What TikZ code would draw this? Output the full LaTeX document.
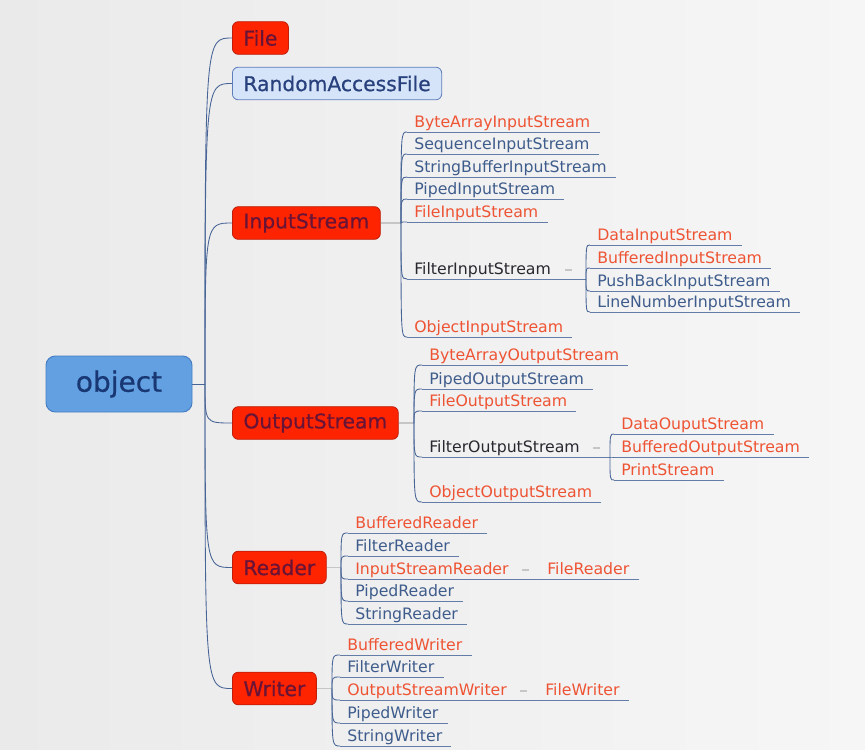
\documentclass[tikz,border=0pt]{standalone}
\usepackage{fontspec}
\setmainfont{DejaVu Sans}
\newfontfamily\topfont[FakeBold=0.6]{DejaVu Sans}
\usetikzlibrary{calc}
\definecolor{bgL}{RGB}{234,234,234}
\definecolor{bgR}{RGB}{246,246,246}
\definecolor{topred}{RGB}{255,36,0}
\definecolor{topredline}{RGB}{190,30,10}
\definecolor{toptext}{RGB}{105,20,55}
\definecolor{objblue}{RGB}{98,160,226}
\definecolor{objline}{RGB}{70,125,195}
\definecolor{objtext}{RGB}{25,55,115}
\definecolor{rafblue}{RGB}{214,228,250}
\definecolor{rafline}{RGB}{95,125,185}
\definecolor{raftext}{RGB}{40,65,125}
\definecolor{orangetx}{RGB}{238,84,52}
\definecolor{bluetx}{RGB}{62,92,140}
\definecolor{darktx}{RGB}{40,40,48}
\definecolor{ulcol}{RGB}{100,125,168}
\definecolor{conncol}{RGB}{70,100,150}
\newcommand\leaf[5]{%
  \node[leaf,text=#4] (#1) at (#2,#3-5) {#5};
  \coordinate (#1u) at ($(#1.base west)+(-7,5)$);
}
\newcommand\uleaf[1]{\draw[uline] (#1u) -- ($(#1.base east)+(9,5)$);}
\begin{document}
\begin{tikzpicture}[x=0.75pt,y=-0.75pt,
  lvl/.style={draw=topredline,fill=topred,rounded corners=4.5pt,anchor=west,
    font=\topfont\fontsize{15.2}{17}\selectfont,text=toptext,inner xsep=8.3pt,inner ysep=0pt,
    minimum height=24.5pt,line width=0.6pt},
  rafbox/.style={lvl,fill=rafblue,draw=rafline,text=raftext},
  objbox/.style={draw=objline,fill=objblue,rounded corners=7pt,minimum width=109.5pt,
    minimum height=42pt,font=\topfont\fontsize{21}{24}\selectfont,text=objtext,line width=0.7pt},
  leaf/.style={anchor=base west,inner sep=0pt,font=\fontsize{11.8}{14}\selectfont},
  uline/.style={draw=ulcol,line width=0.65pt},
  conn/.style={draw=conncol,line width=0.65pt},
  stub/.style={draw=gray!45,line width=0.9pt}]
\useasboundingbox (0,0) rectangle (865,750);
\shade[left color=bgL,right color=bgR] (0,0) rectangle (865,750);

% root and level 1
\node[objbox] (obj) at (119,384) {object};
\node[lvl] (file) at (232,38) {File};
\node[rafbox] (raf) at (232,83.5) {RandomAccessFile};
\node[lvl] (is) at (232,223) {InputStream};
\node[lvl] (os) at (232,423) {OutputStream};
\node[lvl] (rd) at (232,567.5) {Reader};
\node[lvl] (wr) at (232,688.5) {Writer};
\coordinate (objJ) at (205,384);
\draw[conn] (obj.east) -- (objJ);
\foreach \c in {file,raf,is,os,rd,wr}
  \draw[conn] (objJ) .. controls (objJ |- \c.west) .. (\c.west);

% InputStream
\coordinate (isJ) at (401,223);
\draw[stub] (is.east) -- (isJ);
\leaf{isa}{414}{132}{orangetx}{ByteArrayInputStream}
\leaf{isb}{414}{154}{bluetx}{SequenceInputStream}
\leaf{isc}{414}{177}{bluetx}{StringBufferInputStream}
\leaf{isd}{414}{199}{bluetx}{PipedInputStream}
\leaf{ise}{414}{222}{orangetx}{FileInputStream}
\leaf{isf}{414}{279}{darktx}{FilterInputStream}
\leaf{isg}{414}{337}{orangetx}{ObjectInputStream}
\foreach \c in {isa,isb,isc,isd,ise,isg} {\uleaf{\c}}
\foreach \c in {isa,isb,isc,isd,ise,isf,isg}
  \draw[conn] (isJ) .. controls (isJ |- \c u) .. (\c u);
\coordinate (fiJ) at (586,279);
\draw[uline] (isfu) -- (fiJ);
\draw[stub] ($(isf.base east)+(14,-4)$) -- +(7,0);
\leaf{fia}{597}{245}{orangetx}{DataInputStream}
\leaf{fib}{597}{268}{orangetx}{BufferedInputStream}
\leaf{fic}{597}{291}{bluetx}{PushBackInputStream}
\leaf{fid}{597}{312}{bluetx}{LineNumberInputStream}
\foreach \c in {fia,fib,fic,fid} {\uleaf{\c}
  \draw[conn] (fiJ) .. controls (fiJ |- \c u) .. (\c u);}

% OutputStream
\coordinate (osJ) at (414,423);
\draw[stub] (os.east) -- (osJ);
\leaf{osa}{429}{365}{orangetx}{ByteArrayOutputStream}
\leaf{osb}{429}{389}{bluetx}{PipedOutputStream}
\leaf{osc}{429}{411}{orangetx}{FileOutputStream}
\leaf{osd}{429}{457}{darktx}{FilterOutputStream}
\leaf{ose}{429}{502}{orangetx}{ObjectOutputStream}
\foreach \c in {osa,osb,osc,ose} {\uleaf{\c}}
\foreach \c in {osa,osb,osc,osd,ose}
  \draw[conn] (osJ) .. controls (osJ |- \c u) .. (\c u);
\coordinate (foJ) at (610,457);
\draw[uline] (osdu) -- (foJ);
\draw[stub] ($(osd.base east)+(13,-4)$) -- +(7,0);
\leaf{foa}{621}{434}{orangetx}{DataOuputStream}
\leaf{fob}{621}{457}{orangetx}{BufferedOutputStream}
\leaf{foc}{621}{480}{orangetx}{PrintStream}
\foreach \c in {foa,fob,foc} {\uleaf{\c}
  \draw[conn] (foJ) .. controls (foJ |- \c u) .. (\c u);}

% Reader
\coordinate (rdJ) at (341,567.5);
\draw[stub] (rd.east) -- (rdJ);
\leaf{rda}{355}{533}{orangetx}{BufferedReader}
\leaf{rdb}{355}{556}{bluetx}{FilterReader}
\leaf{rdc}{355}{579}{orangetx}{InputStreamReader}
\leaf{rdd}{355}{601}{bluetx}{PipedReader}
\leaf{rde}{355}{624}{bluetx}{StringReader}
\foreach \c in {rda,rdb,rdd,rde} {\uleaf{\c}}
\foreach \c in {rda,rdb,rdc,rdd,rde}
  \draw[conn] (rdJ) .. controls (rdJ |- \c u) .. (\c u);
\leaf{frd}{547}{579}{orangetx}{FileReader}
\draw[uline] (rdcu) -- (frdu);
\uleaf{frd}
\draw[stub] ($(rdc.base east)+(13,-4)$) -- +(7,0);

% Writer
\coordinate (wrJ) at (332,688.5);
\draw[stub] (wr.east) -- (wrJ);
\leaf{wra}{347}{655}{orangetx}{BufferedWriter}
\leaf{wrb}{347}{677}{bluetx}{FilterWriter}
\leaf{wrc}{347}{700}{orangetx}{OutputStreamWriter}
\leaf{wrd}{347}{723}{bluetx}{PipedWriter}
\leaf{wre}{347}{746}{bluetx}{StringWriter}
\foreach \c in {wra,wrb,wrd,wre} {\uleaf{\c}}
\foreach \c in {wra,wrb,wrc,wrd,wre}
  \draw[conn] (wrJ) .. controls (wrJ |- \c u) .. (\c u);
\leaf{fwr}{545}{700}{orangetx}{FileWriter}
\draw[uline] (wrcu) -- (fwru);
\uleaf{fwr}
\draw[stub] ($(wrc.base east)+(13,-4)$) -- +(7,0);
\end{tikzpicture}
\end{document}
